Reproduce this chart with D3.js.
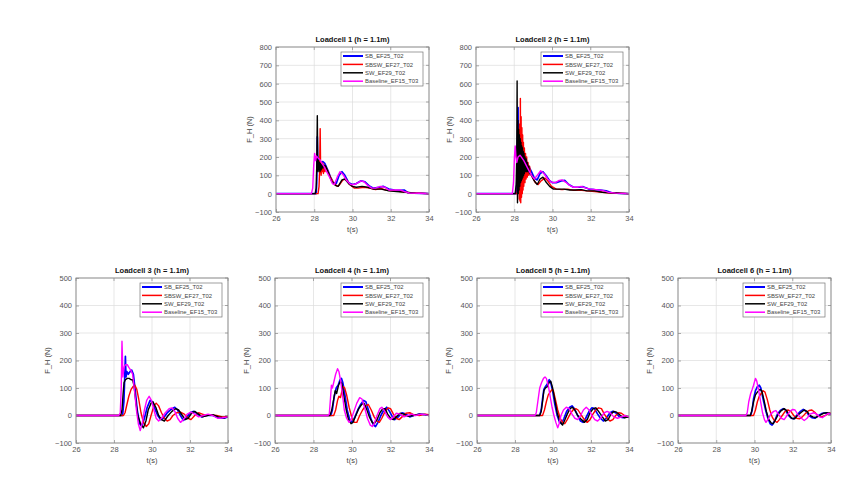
<!DOCTYPE html>
<html><head><meta charset="utf-8">
<script src="https://cdn.jsdelivr.net/npm/d3@7"></script>
<style>
html,body{margin:0;padding:0;background:#fff;}
svg{display:block;font-family:"Liberation Sans",Arial,sans-serif;}
</style></head>
<body><svg id="chart" width="863" height="484"></svg>
<script>
// ---------- data ----------
const seriesNames = ["SB_EF25_T02","SBSW_EF27_T02","SW_EF29_T02","Baseline_EF15_T03"];
const panelTitles = ["Loadcell 1 (h = 1.1m)","Loadcell 2 (h = 1.1m)","Loadcell 3 (h = 1.1m)","Loadcell 4 (h = 1.1m)","Loadcell 5 (h = 1.1m)","Loadcell 6 (h = 1.1m)"];
const xTicks = [26,28,30,32,34];
const yTicksTop = [-100,0,100,200,300,400,500,600,700,800];
const yTicksBottom = [-100,0,100,200,300,400,500];
const xLabel = "t(s)";
const yLabel = "F_H (N)";

// Loadcell 1
const lc1SB = [[26,0],[28.1,0],[28.13,60],[28.16,310],[28.18,150],[28.2,200],[28.23,140],[28.26,180],[28.3,150],[28.35,170],[28.45,175],[28.55,165],[28.7,130],[28.85,90],[29.0,60],[29.15,55],[29.3,100],[29.45,120],[29.6,100],[29.8,60],[30.0,50],[30.2,55],[30.45,70],[30.65,65],[30.9,40],[31.1,30],[31.4,35],[31.6,40],[31.9,25],[32.2,20],[32.5,18],[32.7,20],[32.9,5],[33.2,3],[33.6,2],[34,0]];
const lc1SBSW = [[26,0],[28.2,0],[28.25,40],[28.28,120],[28.31,355],[28.33,160],[28.36,100],[28.39,170],[28.42,120],[28.45,165],[28.48,110],[28.52,155],[28.56,120],[28.6,145],[28.7,125],[28.85,90],[29.0,60],[29.2,40],[29.3,45],[29.5,75],[29.65,80],[29.85,50],[30.1,30],[30.3,30],[30.6,35],[30.9,30],[31.2,22],[31.5,28],[31.8,18],[32.2,15],[32.6,10],[33.0,5],[33.5,2],[34,0]];
const lc1SW = [[26,0],[28.05,0],[28.1,30],[28.13,150],[28.16,425],[28.18,200],[28.2,120],[28.22,180],[28.24,130],[28.27,170],[28.3,120],[28.33,165],[28.36,130],[28.4,160],[28.45,140],[28.5,155],[28.6,150],[28.75,110],[28.9,70],[29.1,45],[29.25,40],[29.45,75],[29.6,80],[29.8,55],[30.0,40],[30.2,35],[30.5,40],[30.8,35],[31.1,25],[31.5,25],[31.9,15],[32.3,12],[32.8,8],[33.3,3],[34,0]];
const lc1BL = [[26,0],[27.85,0],[27.92,30],[27.97,150],[28.02,220],[28.07,180],[28.12,205],[28.2,195],[28.3,185],[28.4,165],[28.5,150],[28.6,130],[28.8,90],[28.95,55],[29.05,50],[29.2,90],[29.35,120],[29.5,105],[29.7,70],[29.9,50],[30.1,50],[30.3,60],[30.45,70],[30.6,65],[30.8,45],[31.0,30],[31.2,30],[31.45,40],[31.7,35],[31.9,20],[32.2,20],[32.5,20],[32.7,12],[33.0,3],[33.5,2],[34,0]];

// Loadcell 2
const lc2SB = [[26,0],[28.1,0],[28.14,80],[28.17,300],[28.2,470],[28.22,100],[28.24,300],[28.26,120],[28.28,280],[28.3,130],[28.33,260],[28.36,140],[28.4,240],[28.44,150],[28.48,220],[28.52,160],[28.58,200],[28.65,170],[28.75,150],[28.9,120],[29.05,85],[29.2,75],[29.35,110],[29.5,120],[29.65,100],[29.85,70],[30.0,60],[30.2,60],[30.45,70],[30.65,72],[30.85,50],[31.1,35],[31.4,35],[31.6,38],[31.9,25],[32.2,22],[32.5,20],[32.8,15],[33.1,5],[33.5,2],[34,0]];
const lc2SBSW = [[26,0],[28.15,0],[28.2,60],[28.23,250],[28.26,-30],[28.28,380],[28.3,-40],[28.32,520],[28.34,-50],[28.36,420],[28.38,-20],[28.4,360],[28.42,0],[28.44,320],[28.46,20],[28.48,280],[28.5,40],[28.53,250],[28.56,60],[28.59,220],[28.62,80],[28.65,200],[28.68,90],[28.72,170],[28.76,100],[28.8,150],[28.85,110],[28.95,90],[29.1,60],[29.25,50],[29.4,70],[29.6,85],[29.75,70],[29.95,40],[30.2,25],[30.5,22],[30.8,25],[31.1,18],[31.4,20],[31.8,15],[32.2,12],[32.6,8],[33.0,4],[33.5,2],[34,0]];
const lc2SW = [[26,0],[28.05,0],[28.1,50],[28.13,200],[28.15,615],[28.17,-50],[28.19,400],[28.21,0],[28.23,350],[28.25,20],[28.27,320],[28.29,40],[28.31,300],[28.33,60],[28.35,280],[28.37,70],[28.39,260],[28.41,80],[28.43,250],[28.45,90],[28.47,230],[28.49,100],[28.51,220],[28.53,110],[28.56,200],[28.59,120],[28.62,190],[28.65,120],[28.68,170],[28.72,120],[28.76,150],[28.8,110],[28.9,100],[29.05,70],[29.2,50],[29.35,80],[29.5,90],[29.65,65],[29.85,40],[30.05,25],[30.3,25],[30.6,25],[30.9,20],[31.2,20],[31.5,22],[31.8,15],[32.2,15],[32.6,8],[33.0,5],[33.5,2],[34,0]];
const lc2BL = [[26,0],[27.9,0],[27.96,60],[28.01,200],[28.05,260],[28.09,200],[28.13,170],[28.2,200],[28.3,210],[28.4,195],[28.5,180],[28.6,160],[28.75,130],[28.9,100],[29.05,80],[29.2,100],[29.38,125],[29.55,110],[29.75,80],[29.95,62],[30.15,60],[30.35,72],[30.5,75],[30.7,62],[30.9,45],[31.1,35],[31.3,35],[31.5,40],[31.75,30],[32.0,25],[32.3,22],[32.6,18],[32.9,8],[33.3,3],[34,0]];

// Loadcell 3
const lc3SB = [[26,0],[28.45,0],[28.52,50],[28.57,150],[28.6,215],[28.63,140],[28.68,160],[28.75,150],[28.85,160],[28.93,165],[29.02,150],[29.12,90],[29.22,20],[29.35,-30],[29.47,-40],[29.6,-10],[29.75,30],[29.9,55],[30.02,50],[30.15,25],[30.3,0],[30.45,-15],[30.6,-10],[30.8,10],[31.0,22],[31.2,30],[31.35,20],[31.5,0],[31.65,-18],[31.8,-10],[32.0,10],[32.2,15],[32.4,5],[32.6,-5],[32.9,0],[33.2,0],[33.5,-8],[33.8,-10],[34,-5]];
const lc3SBSW = [[26,0],[28.5,0],[28.58,10],[28.68,40],[28.78,70],[28.9,95],[29.0,105],[29.1,110],[29.2,95],[29.3,60],[29.42,10],[29.55,-25],[29.7,-40],[29.83,-30],[29.95,0],[30.1,35],[30.22,45],[30.35,35],[30.5,10],[30.65,-10],[30.8,-20],[30.95,-15],[31.1,0],[31.3,10],[31.5,12],[31.7,5],[31.9,-10],[32.05,-15],[32.25,0],[32.45,10],[32.65,5],[32.85,0],[33.1,2],[33.4,0],[33.7,-5],[34,-3]];
const lc3SW = [[26,0],[28.35,0],[28.42,20],[28.48,80],[28.53,120],[28.6,130],[28.7,135],[28.8,135],[28.9,130],[28.98,130],[29.05,110],[29.15,50],[29.25,0],[29.4,-30],[29.55,-45],[29.68,-20],[29.8,20],[29.95,45],[30.05,50],[30.2,30],[30.35,0],[30.5,-15],[30.65,-20],[30.85,0],[31.05,15],[31.25,25],[31.4,20],[31.6,0],[31.75,-15],[31.9,-10],[32.1,10],[32.25,15],[32.45,5],[32.65,-5],[32.9,0],[33.2,3],[33.5,-5],[33.8,-8],[34,-5]];
const lc3BL = [[26,0],[28.25,0],[28.33,10],[28.38,100],[28.42,270],[28.45,200],[28.47,140],[28.5,160],[28.55,180],[28.62,185],[28.7,185],[28.78,175],[28.88,165],[28.98,150],[29.08,90],[29.18,20],[29.28,-30],[29.38,-55],[29.48,-30],[29.6,20],[29.72,55],[29.85,70],[29.97,55],[30.1,20],[30.22,-10],[30.35,-20],[30.5,-10],[30.7,10],[30.9,25],[31.05,28],[31.2,15],[31.35,-10],[31.5,-25],[31.65,-15],[31.85,5],[32.05,12],[32.25,5],[32.45,-5],[32.7,0],[32.95,5],[33.2,0],[33.45,-10],[33.7,-8],[34,-5]];

// Loadcell 4
const lc4SB = [[26,0],[28.9,0],[28.98,20],[29.08,70],[29.18,100],[29.28,110],[29.38,130],[29.45,135],[29.52,120],[29.62,80],[29.75,20],[29.88,-15],[30.0,-25],[30.12,-10],[30.3,20],[30.45,40],[30.6,55],[30.72,50],[30.85,20],[31.0,-15],[31.12,-35],[31.22,-40],[31.35,-25],[31.5,0],[31.65,20],[31.8,30],[31.95,15],[32.1,-5],[32.22,-15],[32.4,-5],[32.6,10],[32.8,5],[33.0,-5],[33.2,0],[33.5,5],[33.8,3],[34,0]];
const lc4SBSW = [[26,0],[29.05,0],[29.15,20],[29.25,55],[29.32,70],[29.4,65],[29.48,90],[29.55,105],[29.62,100],[29.72,75],[29.85,30],[30.0,-10],[30.12,-25],[30.25,-25],[30.4,0],[30.55,20],[30.7,35],[30.85,40],[31.0,20],[31.15,-5],[31.3,-20],[31.42,-25],[31.55,-10],[31.72,15],[31.88,28],[32.0,25],[32.15,5],[32.3,-10],[32.45,-15],[32.6,-5],[32.8,8],[33.0,10],[33.2,3],[33.5,0],[33.8,5],[34,3]];
const lc4SW = [[26,0],[28.85,0],[28.95,20],[29.05,60],[29.13,90],[29.2,80],[29.3,110],[29.4,125],[29.48,115],[29.58,70],[29.7,20],[29.82,-15],[29.95,-30],[30.05,-25],[30.2,0],[30.35,25],[30.5,40],[30.62,45],[30.75,25],[30.9,-5],[31.05,-25],[31.15,-30],[31.3,-15],[31.45,10],[31.6,25],[31.72,25],[31.85,5],[32.0,-10],[32.15,-15],[32.3,-5],[32.5,8],[32.7,5],[32.9,-3],[33.2,0],[33.5,5],[33.8,3],[34,0]];
const lc4BL = [[26,0],[28.75,0],[28.82,5],[28.88,60],[28.93,110],[28.98,100],[29.05,120],[29.15,150],[29.25,170],[29.32,160],[29.4,130],[29.5,80],[29.6,20],[29.72,-10],[29.85,-25],[29.95,-15],[30.1,15],[30.25,45],[30.4,65],[30.52,60],[30.65,30],[30.8,-10],[30.95,-35],[31.05,-40],[31.15,-30],[31.3,0],[31.45,25],[31.55,30],[31.7,15],[31.85,-5],[32.0,-15],[32.15,-5],[32.3,8],[32.5,5],[32.7,-5],[32.9,0],[33.1,5],[33.3,0],[33.6,5],[33.8,3],[34,0]];

// Loadcell 5
const lc5SB = [[26,0],[29.3,0],[29.38,20],[29.45,60],[29.52,95],[29.6,105],[29.7,115],[29.8,130],[29.88,120],[29.98,90],[30.1,40],[30.22,0],[30.35,-25],[30.45,-30],[30.58,-10],[30.72,15],[30.88,30],[31.0,35],[31.12,25],[31.3,0],[31.45,-20],[31.58,-25],[31.72,-10],[31.9,15],[32.05,28],[32.18,25],[32.35,5],[32.5,-10],[32.65,-20],[32.8,-10],[33.0,10],[33.15,15],[33.3,10],[33.5,-5],[33.7,-8],[33.9,-5],[34,-5]];
const lc5SBSW = [[26,0],[29.45,0],[29.55,20],[29.65,50],[29.75,75],[29.85,85],[29.95,95],[30.02,90],[30.12,60],[30.25,20],[30.38,-10],[30.5,-25],[30.62,-30],[30.75,-15],[30.9,5],[31.05,20],[31.2,25],[31.32,20],[31.5,0],[31.65,-15],[31.8,-25],[31.95,-15],[32.1,5],[32.25,20],[32.4,28],[32.55,25],[32.7,5],[32.85,-10],[33.0,-20],[33.15,-15],[33.3,0],[33.45,10],[33.6,8],[33.8,-2],[34,-5]];
const lc5SW = [[26,0],[29.3,0],[29.38,15],[29.45,50],[29.52,90],[29.6,100],[29.7,105],[29.8,120],[29.88,125],[29.98,100],[30.1,55],[30.22,10],[30.35,-20],[30.5,-35],[30.6,-20],[30.75,5],[30.9,25],[31.02,30],[31.15,20],[31.3,0],[31.5,-15],[31.65,-25],[31.8,-15],[31.95,10],[32.12,25],[32.25,28],[32.4,15],[32.6,-5],[32.75,-20],[32.9,-15],[33.05,5],[33.2,15],[33.35,12],[33.55,0],[33.75,-8],[34,-5]];
const lc5BL = [[26,0],[29.05,0],[29.12,10],[29.2,50],[29.3,100],[29.4,120],[29.5,135],[29.58,140],[29.65,135],[29.75,110],[29.85,70],[29.95,30],[30.05,0],[30.15,-25],[30.25,-45],[30.32,-30],[30.42,0],[30.55,20],[30.7,30],[30.85,25],[31.0,5],[31.15,-10],[31.3,-15],[31.45,0],[31.6,20],[31.75,30],[31.9,20],[32.05,0],[32.2,-15],[32.35,-20],[32.5,-10],[32.7,10],[32.85,15],[33.0,10],[33.2,-5],[33.4,-10],[33.6,-5],[33.8,0],[34,-5]];

// Loadcell 6
const lc6SB = [[26,0],[29.8,0],[29.88,20],[29.95,60],[30.05,90],[30.15,105],[30.25,110],[30.33,100],[30.45,60],[30.58,20],[30.7,-10],[30.82,-30],[30.92,-35],[31.05,-20],[31.2,5],[31.35,18],[31.5,25],[31.62,20],[31.78,0],[31.92,-10],[32.05,-12],[32.2,0],[32.4,15],[32.55,22],[32.7,15],[32.85,0],[33.0,-8],[33.15,-10],[33.35,0],[33.55,8],[33.75,10],[34,5]];
const lc6SBSW = [[26,0],[29.95,0],[30.05,20],[30.15,50],[30.25,70],[30.35,80],[30.45,90],[30.55,85],[30.68,55],[30.8,20],[30.92,-5],[31.05,-20],[31.18,-25],[31.3,-15],[31.45,0],[31.6,15],[31.75,20],[31.9,15],[32.05,0],[32.2,-10],[32.35,-12],[32.5,-5],[32.7,10],[32.85,18],[33.0,20],[33.15,12],[33.3,0],[33.5,-5],[33.7,0],[33.9,8],[34,8]];
const lc6SW = [[26,0],[29.78,0],[29.85,15],[29.95,50],[30.05,75],[30.15,85],[30.28,95],[30.38,90],[30.5,55],[30.62,15],[30.75,-15],[30.88,-28],[30.98,-30],[31.1,-15],[31.25,5],[31.4,18],[31.55,25],[31.68,18],[31.82,0],[31.95,-10],[32.1,-12],[32.25,0],[32.45,12],[32.6,20],[32.75,15],[32.9,0],[33.05,-5],[33.2,-8],[33.4,0],[33.6,8],[33.8,10],[34,6]];
const lc6BL = [[26,0],[29.55,0],[29.62,10],[29.7,50],[29.8,80],[29.88,95],[29.95,110],[30.05,135],[30.12,125],[30.22,90],[30.32,50],[30.42,10],[30.52,-15],[30.6,-25],[30.7,-15],[30.85,5],[31.0,15],[31.12,18],[31.25,5],[31.4,-10],[31.55,-15],[31.7,0],[31.85,15],[32.0,22],[32.12,20],[32.3,0],[32.45,-10],[32.6,-18],[32.75,-10],[32.9,5],[33.1,10],[33.25,5],[33.4,-5],[33.55,-8],[33.7,0],[33.85,8],[34,5]];

// ---------- styles & layout ----------
const seriesColors = ["#0000ff","#ff0000","#000000","#ff00ff"];
const seriesWidths = [1.7,1.4,1.4,1.4];
const panelData = [
  [lc1SB,lc1SBSW,lc1SW,lc1BL],
  [lc2SB,lc2SBSW,lc2SW,lc2BL],
  [lc3SB,lc3SBSW,lc3SW,lc3BL],
  [lc4SB,lc4SBSW,lc4SW,lc4BL],
  [lc5SB,lc5SBSW,lc5SW,lc5BL],
  [lc6SB,lc6SBSW,lc6SW,lc6BL]
];
const layout = [
  {x:276, y:47,  w:153, h:165, top:true},
  {x:476, y:47,  w:153, h:165, top:true},
  {x:76,  y:278, w:152, h:165, top:false},
  {x:275, y:278, w:154, h:165, top:false},
  {x:477, y:278, w:152, h:165, top:false},
  {x:678, y:278, w:153, h:165, top:false}
];

const svg = d3.select("#chart");
svg.append("rect").attr("width",863).attr("height",484).attr("fill","#fff");

layout.forEach((L, i) => {
  const yTicks = L.top ? yTicksTop : yTicksBottom;
  const x = d3.scaleLinear().domain([26,34]).range([0, L.w]);
  const y = d3.scaleLinear().domain([d3.min(yTicks), d3.max(yTicks)]).range([L.h, 0]);
  const g = svg.append("g").attr("transform", `translate(${L.x},${L.y})`);
  g.append("rect").attr("width", L.w).attr("height", L.h).attr("fill", "#fff");

  // grid
  const grid = g.append("g").attr("stroke", "#dcdcdc").attr("stroke-width", 0.7);
  xTicks.forEach(t => grid.append("line").attr("x1", x(t)).attr("x2", x(t)).attr("y1", 0).attr("y2", L.h));
  yTicks.forEach(t => grid.append("line").attr("y1", y(t)).attr("y2", y(t)).attr("x1", 0).attr("x2", L.w));

  // clip
  const clipId = "clip" + i;
  g.append("clipPath").attr("id", clipId).append("rect").attr("width", L.w).attr("height", L.h);

  const line = d3.line().x(d => x(d[0])).y(d => y(d[1]));
  const plot = g.append("g").attr("clip-path", `url(#${clipId})`);
  panelData[i].forEach((s, k) => {
    plot.append("path").datum(s).attr("d", line).attr("fill", "none")
      .attr("stroke", seriesColors[k]).attr("stroke-width", seriesWidths[k])
      .attr("stroke-linejoin", "round");
  });

  // axes
  const xa = g.append("g").attr("transform", `translate(0,${L.h})`)
    .call(d3.axisBottom(x).tickValues(xTicks).tickSize(-3).tickPadding(4).tickFormat(d3.format("d")));
  const ya = g.append("g")
    .call(d3.axisLeft(y).tickValues(yTicks).tickSize(-3).tickPadding(4).tickFormat(d3.format("d")));
  [xa, ya].forEach(a => {
    a.select(".domain").remove();
    a.selectAll("line").attr("stroke", "#777").attr("stroke-width", 0.6);
    a.selectAll("text").attr("fill", "#555").style("font-size", "7.5px").style("font-family", "Liberation Sans, Arial, sans-serif");
  });
  // top & right ticks
  xTicks.forEach(t => g.append("line").attr("x1", x(t)).attr("x2", x(t)).attr("y1", 0).attr("y2", 3).attr("stroke", "#777").attr("stroke-width", 0.6));
  yTicks.forEach(t => g.append("line").attr("x1", L.w).attr("x2", L.w - 3).attr("y1", y(t)).attr("y2", y(t)).attr("stroke", "#777").attr("stroke-width", 0.6));
  // box
  g.append("rect").attr("width", L.w).attr("height", L.h).attr("fill", "none").attr("stroke", "#888").attr("stroke-width", 0.9);

  // title
  g.append("text").attr("x", L.w / 2).attr("y", -5).attr("text-anchor", "middle")
    .attr("font-weight", "bold").attr("font-size", "7.5px").attr("fill", "#111").text(panelTitles[i]);
  // x label
  g.append("text").attr("x", L.w / 2).attr("y", L.h + 19.5).attr("text-anchor", "middle")
    .attr("font-size", "7.5px").attr("fill", "#444").text(xLabel);
  // y label
  g.append("text").attr("transform", `translate(${L.top ? -24 : -26},${L.h / 2}) rotate(-90)`)
    .attr("text-anchor", "middle").attr("font-size", "7.5px").attr("fill", "#444").text(yLabel);

  // legend
  const lw = 82, lh = 34;
  const lg = g.append("g").attr("transform", `translate(${L.w - lw - 6},5)`);
  lg.append("rect").attr("width", lw).attr("height", lh).attr("fill", "#fff").attr("stroke", "#777").attr("stroke-width", 0.7);
  seriesNames.forEach((n, k) => {
    const yy = 4 + k * 8.4;
    lg.append("line").attr("x1", 2).attr("x2", 22).attr("y1", yy).attr("y2", yy)
      .attr("stroke", seriesColors[k]).attr("stroke-width", k === 0 ? 2 : 1.5);
    lg.append("text").attr("x", 24).attr("y", yy + 2.1).attr("font-size", "5.9px").attr("fill", "#444").text(n);
  });
});
</script>
</body></html>
